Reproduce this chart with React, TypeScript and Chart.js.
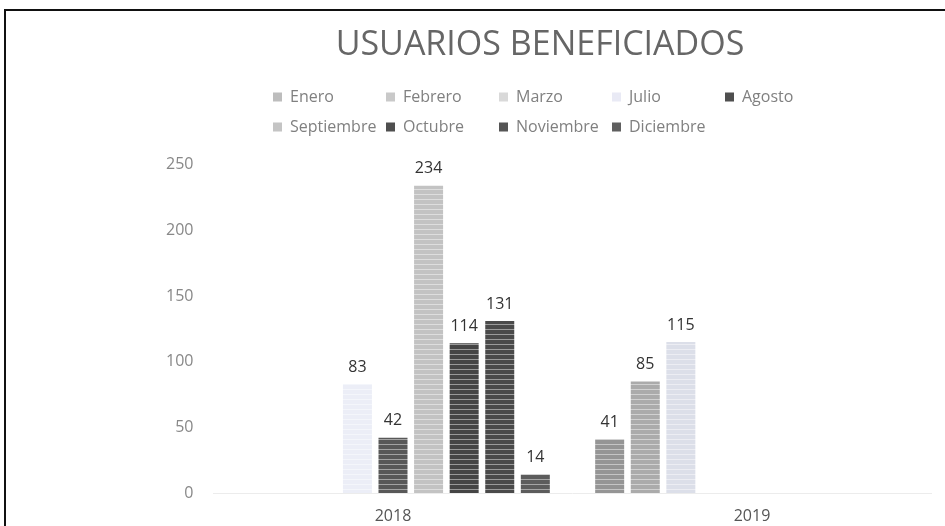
import React, { useEffect, useRef } from 'react';
import { Chart, registerables } from 'chart.js';

Chart.register(...registerables);

const TITLE = 'USUARIOS BENEFICIADOS';
const YEARS = ['2018', '2019'];
const SERIES_NAMES = ['Enero', 'Febrero', 'Marzo', 'Julio', 'Agosto', 'Septiembre', 'Octubre', 'Noviembre', 'Diciembre'];
const ENERO = [null, 41];
const FEBRERO = [null, 85];
const MARZO = [null, 115];
const JULIO = [83, null];
const AGOSTO = [42, null];
const SEPTIEMBRE = [234, null];
const OCTUBRE = [114, null];
const NOVIEMBRE = [131, null];
const DICIEMBRE = [14, null];
const SERIES_VALUES = [ENERO, FEBRERO, MARZO, JULIO, AGOSTO, SEPTIEMBRE, OCTUBRE, NOVIEMBRE, DICIEMBRE];
const Y_MIN = 0;
const Y_MAX = 250;
const Y_STEP = 50;

const SERIES_COLORS = ['#959595', '#ababab', '#dcdfe9', '#eceef7', '#585858', '#c3c3c3', '#454545', '#4a4a4a', '#5c5c5c'];
const LEGEND_COLORS = ['#bdbdbd', '#c9c9c9', '#d9d9d9', '#e9eaf5', '#4f4f4f', '#c4c4c4', '#4f4f4f', '#555555', '#5f5f5f'];
const FONT = '"Open Sans", "DejaVu Sans", sans-serif';

function stripes(color: string): CanvasPattern | string {
  const c = document.createElement('canvas');
  c.width = 6;
  c.height = 5;
  const g = c.getContext('2d');
  if (!g) return color;
  g.fillStyle = color;
  g.fillRect(0, 0, 6, 5);
  g.fillStyle = 'rgba(255,255,255,0.45)';
  g.fillRect(0, 4, 6, 1);
  const p = g.createPattern(c, 'repeat');
  return p || color;
}

const valueLabels = {
  id: 'valueLabels',
  afterDatasetsDraw(chart: any) {
    const ctx = chart.ctx;
    ctx.save();
    ctx.font = `16px ${FONT}`;
    ctx.fillStyle = '#333333';
    ctx.textAlign = 'center';
    ctx.textBaseline = 'middle';
    chart.data.datasets.forEach((ds: any, di: number) => {
      const meta = chart.getDatasetMeta(di);
      meta.data.forEach((el: any, i: number) => {
        const v = ds.data[i];
        if (v === null || v === undefined) return;
        ctx.fillText(String(v), el.x, el.y - 17);
      });
    });
    ctx.restore();
  },
};

const gridLegend = {
  id: 'gridLegend',
  afterDraw(chart: any, _args: any, opts: any) {
    const ctx = chart.ctx;
    ctx.save();
    ctx.font = `${opts.fontSize}px ${FONT}`;
    ctx.textAlign = 'left';
    ctx.textBaseline = 'middle';
    chart.data.datasets.forEach((ds: any, i: number) => {
      const col = i % opts.perRow;
      const row = Math.floor(i / opts.perRow);
      const x = opts.x0 + col * opts.colW;
      const y = opts.y0 + row * opts.rowH;
      ctx.fillStyle = opts.colors[i];
      ctx.fillRect(x, y - opts.box / 2, opts.box, opts.box);
      ctx.fillStyle = opts.color;
      ctx.fillText(ds.label, x + opts.textGap, y);
    });
    ctx.restore();
  },
};

export default function App() {
  const ref = useRef<HTMLCanvasElement | null>(null);

  useEffect(() => {
    if (!ref.current) return;
    const datasets = SERIES_NAMES.map((name, i) => ({
      label: name,
      data: SERIES_VALUES[i],
      backgroundColor: stripes(SERIES_COLORS[i]),
      borderWidth: 0,
      categoryPercentage: 0.892,
      barPercentage: 0.815,
    }));
    const chart = new Chart(ref.current, {
      type: 'bar',
      data: { labels: YEARS, datasets },
      plugins: [valueLabels, gridLegend],
      options: {
        animation: false,
        responsive: false,
        devicePixelRatio: 1,
        layout: { padding: { left: 148.5, right: 13.5, top: 0, bottom: 0 } },
        plugins: {
          legend: { display: false },
          tooltip: { enabled: false },
          title: {
            display: true,
            text: TITLE,
            color: '#666666',
            font: { family: FONT, size: 34, weight: 'normal' },
            padding: { top: 25, bottom: 99 },
          },
          gridLegend: {
            x0: 273,
            y0: 97,
            colW: 113,
            rowH: 30,
            perRow: 5,
            box: 9,
            textGap: 17,
            fontSize: 16,
            color: '#808080',
            colors: LEGEND_COLORS,
          },
        } as any,
        scales: {
          x: {
            grid: { display: false, drawTicks: false },
            border: { display: true, color: '#ececec' },
            ticks: { color: '#555555', font: { family: FONT, size: 16 }, padding: 14 },
            afterFit: (scale: any) => {
              scale.height = 33;
            },
          },
          y: {
            min: Y_MIN,
            max: Y_MAX,
            grid: { display: false, drawTicks: false },
            border: { display: false },
            ticks: { stepSize: Y_STEP, color: '#888888', font: { family: FONT, size: 16 }, padding: 20 },
            afterFit: (scale: any) => {
              scale.width = 65;
            },
          },
        },
      },
    });
    return () => chart.destroy();
  }, []);

  return (
    <div style={{ position: 'absolute', left: 0, top: 0, width: 945, height: 526, background: '#ffffff', overflow: 'hidden' }}>
      <canvas ref={ref} width={945} height={526} style={{ display: 'block', width: 945, height: 526 }} />
      <div
        style={{
          position: 'absolute',
          left: 4,
          top: 9,
          width: 950,
          height: 530,
          borderLeft: '2px solid #111',
          borderTop: '2px solid #111',
          pointerEvents: 'none',
        }}
      />
    </div>
  );
}
